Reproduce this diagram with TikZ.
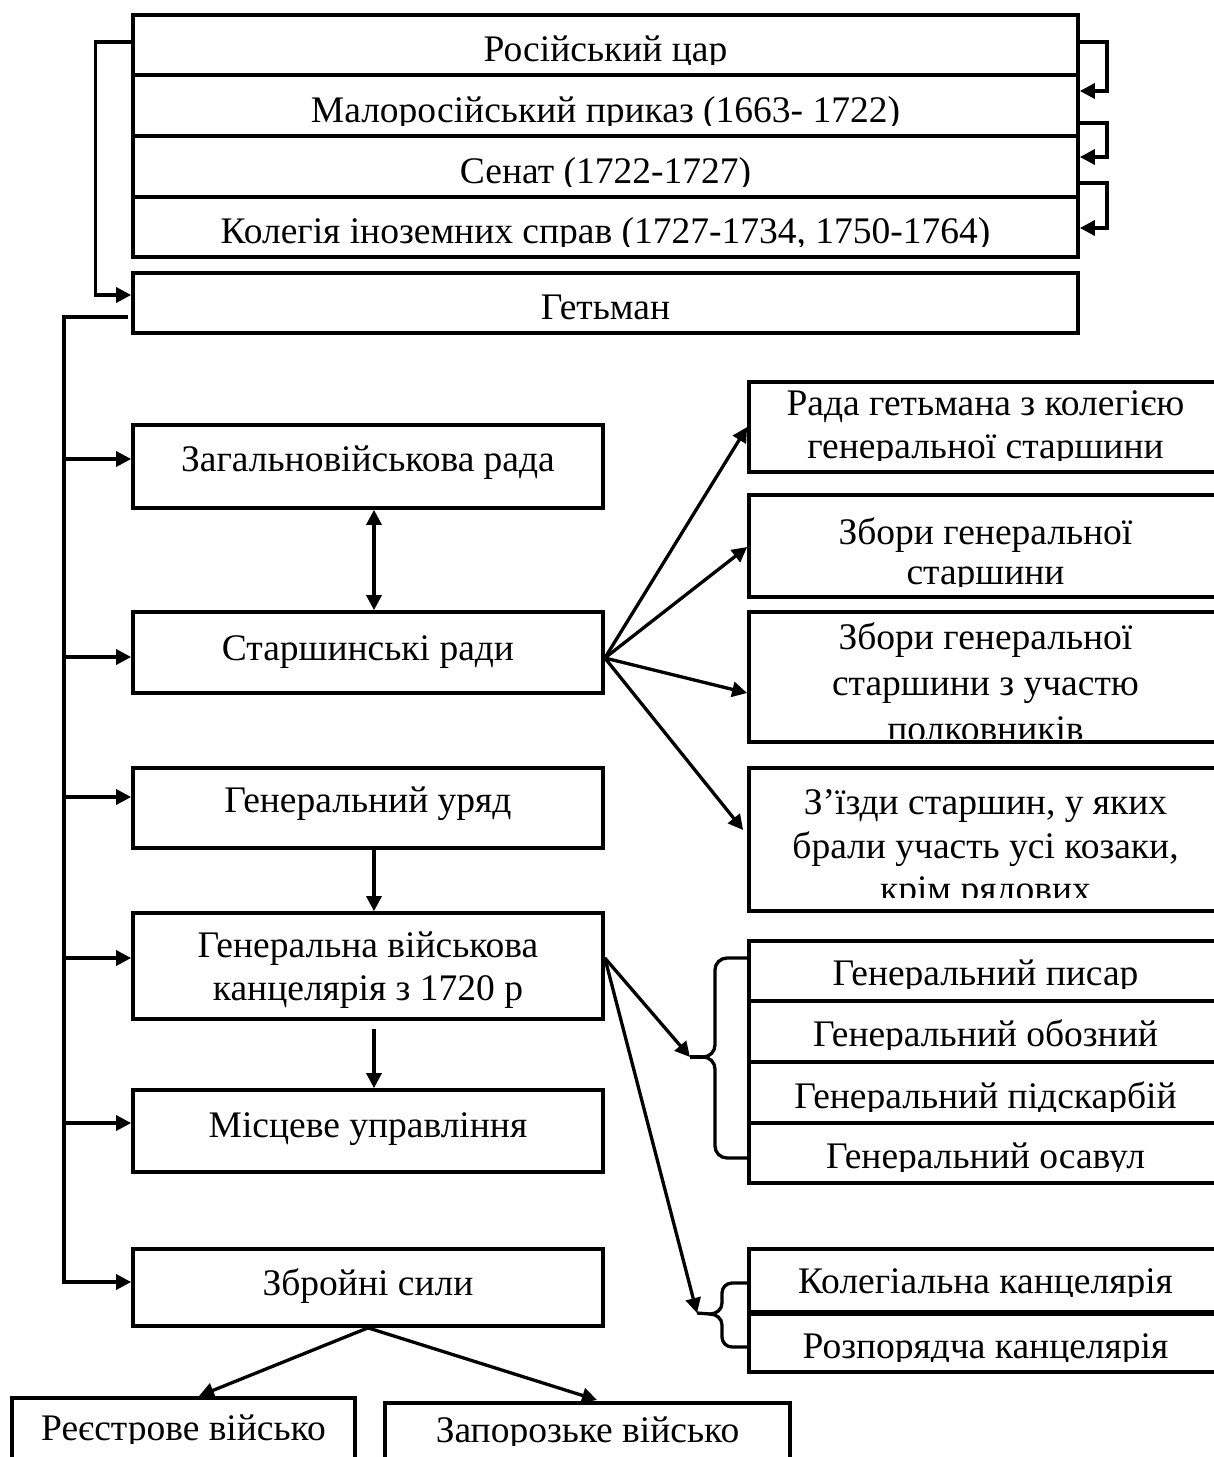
\documentclass[tikz,border=0pt]{standalone}
\usepackage{fontspec}
\setmainfont{Liberation Serif}
\usetikzlibrary{arrows.meta,fit}
\tikzset{
 bx/.style={draw, line width=3.7pt, inner sep=0pt, rectangle},
 txt/.style={font=\fontsize{37.5}{44}\selectfont, inner sep=0pt, anchor=base},
 conn/.style={line width=3.3pt},
 brc/.style={line width=3.3pt, line join=round},
 arr/.style={conn, -{Triangle[length=15pt,width=15pt]}},
 darr/.style={conn, {Triangle[length=15pt,width=15pt]}-{Triangle[length=15pt,width=15pt]}},
}
% name, x1, y1, x2, y2, clip-y, text nodes
\newcommand\mybox[7]{%
 \node[bx, fit={(#2,#3) (#4,#5)}] (#1) {};
 \begin{scope}\clip (#2,#3) rectangle (#4,#6); #7\end{scope}}
\begin{document}
\begin{tikzpicture}[x=1pt,y=-1pt]
\useasboundingbox (0,0) rectangle (1214,1457);
\clip (0,0) rectangle (1214,1457);

% top stack
\mybox{tsar}{133}{15}{1078}{75}{64}{\node[txt] (tsart) at (605.5,61) {Російський цар};}
\mybox{malo}{133}{75}{1078}{136}{125}{\node[txt] (malot) at (605.5,122) {Малоросійський приказ (1663- 1722)};}
\mybox{senat}{133}{136}{1078}{197}{186}{\node[txt] (senatt) at (605.5,183) {Сенат (1722-1727)};}
\mybox{koleg}{133}{197}{1078}{257}{246}{\node[txt] (kolegt) at (605.5,243) {Колегія іноземних справ (1727-1734, 1750-1764)};}
\mybox{het}{133}{273}{1078}{333}{333}{\node[txt] (hett) at (605.5,319) {Гетьман};}

% left column
\mybox{zag}{133}{425}{603}{508}{508}{\node[txt] (zagt) at (368,471) {Загальновійськова рада};}
\mybox{star}{133}{612}{603}{693}{693}{\node[txt] (start) at (368,660) {Старшинські ради};}
\mybox{ury}{133}{768}{603}{848}{848}{\node[txt] (uryt) at (368,812) {Генеральний уряд};}
\mybox{gvk}{133}{913}{603}{1019}{1019}{\node[txt] (gvkt1) at (368,957) {Генеральна військова};
  \node[txt] (gvkt2) at (368,1000) {канцелярія з 1720 р};}
\mybox{mis}{133}{1090}{603}{1172}{1172}{\node[txt] (mist) at (368,1137) {Місцеве управління};}
\mybox{zbr}{133}{1249}{603}{1326}{1326}{\node[txt] (zbrt) at (368,1295) {Збройні сили};}
\mybox{reg}{12}{1398}{355}{1480}{1443}{\node[txt] (regt) at (183.5,1440) {Реєстрове військо};}
\mybox{zap}{385}{1403}{790}{1480}{1445}{\node[txt] (zapt) at (587.5,1442) {Запорозьке військо};}

% right column
\mybox{rada}{749}{382}{1222}{472}{460}{\node[txt] (radat1) at (985.5,415) {Рада гетьмана з колегією};
  \node[txt] (radat2) at (985.5,458) {генеральної старшини};}
\mybox{zb1}{749}{495}{1222}{597}{586}{\node[txt] (zb1t1) at (985.5,544) {Збори генеральної};
  \node[txt] (zb1t2) at (985.5,584) {старшини};}
\mybox{zb2}{749}{612}{1222}{742}{738}{\node[txt] (zb2t1) at (985.5,649) {Збори генеральної};
  \node[txt] (zb2t2) at (985.5,695) {старшини з участю};
  \node[txt] (zb2t3) at (985.5,741) {полковників};}
\mybox{zizd}{749}{768}{1222}{911}{897}{\node[txt] (zizdt1) at (985.5,814) {З’їзди старшин, у яких};
  \node[txt] (zizdt2) at (985.5,858) {брали участь усі козаки,};
  \node[txt] (zizdt3) at (985.5,901) {крім рядових};}

\mybox{pys}{749}{941}{1222}{1001}{988}{\node[txt] (pyst) at (985.5,985) {Генеральний писар};}
\mybox{obz}{749}{1001}{1222}{1062}{1049}{\node[txt] (obzt) at (985.5,1046) {Генеральний обозний};}
\mybox{pid}{749}{1062}{1222}{1123}{1111}{\node[txt] (pidt) at (985.5,1108) {Генеральний підскарбій};}
\mybox{osa}{749}{1123}{1222}{1183}{1171}{\node[txt] (osat) at (985.5,1168) {Генеральний осавул};}

\mybox{kol}{749}{1249}{1222}{1312}{1296}{\node[txt] (kolt) at (985.5,1293) {Колегіальна канцелярія};}
\mybox{roz}{749}{1314}{1222}{1372}{1361}{\node[txt] (rozt) at (985.5,1358) {Розпорядча канцелярія};}

% left bracket from tsar to hetman
\draw[arr] ([yshift=3pt]tsar.west) -- ++(-36,0) |- ([yshift=8pt]het.west);

% right loops
\draw[arr] ([yshift=3pt]tsar.east) -- ++(27,0) |- ([yshift=14.5pt]malo.east);
\draw[arr] ([yshift=-17.5pt]malo.east) -- ++(27,0) |- ([yshift=9.5pt]senat.east);
\draw[arr] ([yshift=-16.5pt]senat.east) -- ++(27,0) |- ([yshift=-1pt]koleg.east);

% spine from hetman
\coordinate (spend) at (64,1284);
\draw[conn] ([xshift=-3pt,yshift=-14pt]het.west) -| (spend);
\foreach \n/\s in {zag/7.5, star/-4.5, ury/11, gvk/8, mis/8, zbr/5.5}{
  \coordinate (tmp) at ([yshift=\s pt]\n.west);
  \draw[arr] (tmp -| spend) -- (tmp);
}

% vertical links
\draw[darr] ([xshift=6pt]zag.south) -- ([xshift=6pt]star.north);
\draw[arr] ([xshift=6pt]ury.south) -- ([xshift=6pt]gvk.north);
\draw[arr] ([xshift=6pt,yshift=-8pt]gvk.south) -- ([xshift=6pt]mis.north);

% fan from starshynski rady
\coordinate (sf) at ([yshift=-5.5pt]star.east);
\draw[arr] (sf) -- (rada.west);
\draw[arr] (sf) -- ([yshift=-1pt]zb1.west);
\draw[arr] (sf) -- ([yshift=-16pt]zb2.west);
\draw[arr] (sf) -- ([xshift=-4pt,yshift=9.5pt]zizd.west);

% braces
\coordinate (b1) at (690,1057);
\coordinate (b2) at (697,1313);
\draw[brc] (749,958) -- (727,958) to[out=180,in=90] (715,970) -- (715,1045)
  to[out=-90,in=0] (703,1057) to[out=0,in=90] (715,1069) -- (715,1146)
  to[out=-90,in=180] (727,1158) -- (749,1158);
\draw[brc] (703,1057) -- (b1);
\draw[brc] (749,1283) -- (732,1283) to[out=180,in=90] (722,1293) -- (722,1303)
  to[out=-90,in=0] (710,1314) to[out=0,in=90] (722,1325) -- (722,1337)
  to[out=-90,in=180] (732,1347) -- (749,1347);
\draw[brc] (710,1314) -- (b2);

% fan from general military chancellery
\coordinate (gf) at ([yshift=8pt]gvk.east);
\draw[arr] (gf) -- (b1);
\draw[arr] (gf) -- (b2);

% armed forces split
\draw[arr] (zbr.south) -- (199,1396);
\draw[arr] (zbr.south) -- (597,1400);
\end{tikzpicture}
\end{document}
